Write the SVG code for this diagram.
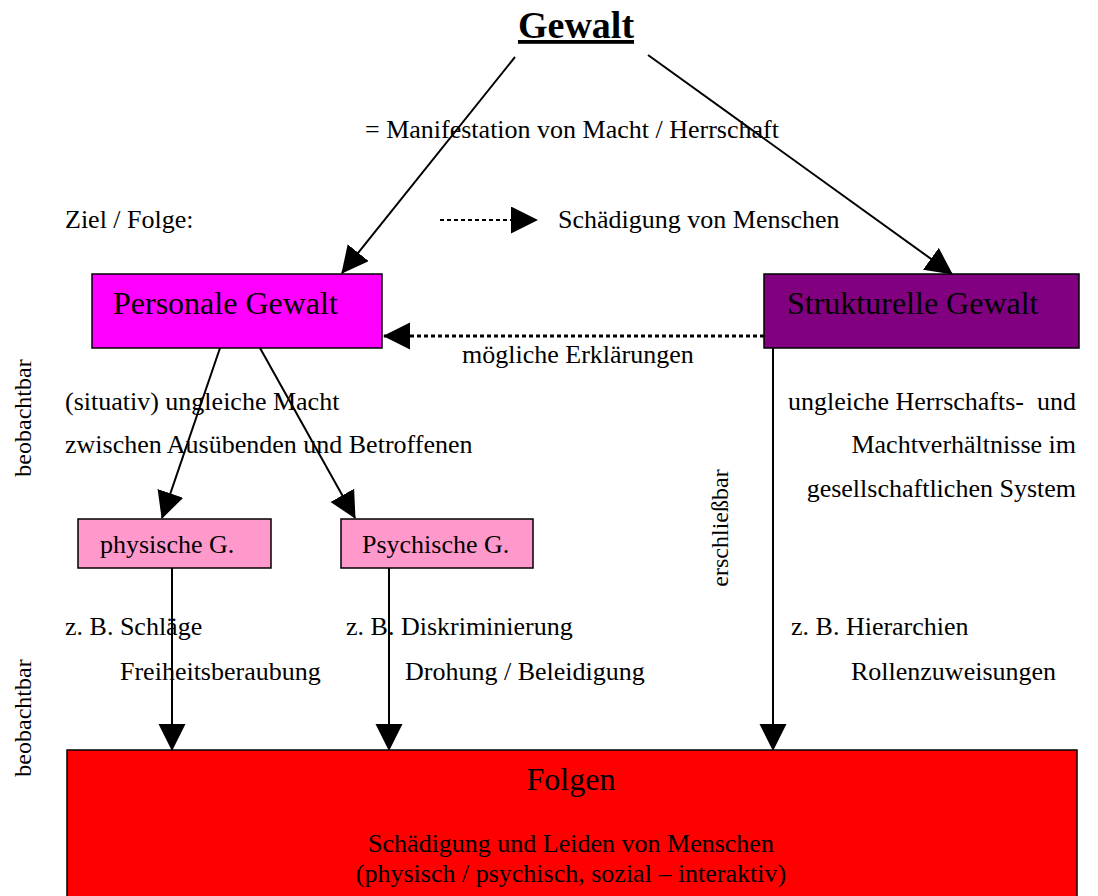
<svg xmlns="http://www.w3.org/2000/svg" width="1098" height="896" viewBox="0 0 1098 896">
  <style>
    text { font-family: "Liberation Serif", "Times New Roman", serif; fill: #000; }
    .t26 { font-size: 26px; }
    .t32 { font-size: 32px; }
    .side { font-size: 24px; text-anchor: middle; }
    .box { stroke: #000; stroke-width: 1.5; }
    .solid { fill: none; stroke: #000; stroke-width: 2; }
    .dotted { fill: none; stroke: #000; stroke-dasharray: 4 3; }
  </style>
  <defs>
    <marker id="head" markerUnits="userSpaceOnUse" markerWidth="28" markerHeight="28" refX="26" refY="13.5" orient="auto">
      <path d="M0,0 L27,13.5 L0,27 Z" fill="#000"/>
    </marker>
  </defs>

  <rect width="1098" height="896" fill="#fff"/>

  <!-- Title -->
  <g id="title">
    <text x="576" y="38" font-size="38" font-weight="bold" text-anchor="middle" text-decoration="underline">Gewalt</text>
  </g>

  <!-- Free labels -->
  <g id="labels">
    <text class="t26" x="365" y="138">= Manifestation von Macht / Herrschaft</text>
    <text class="t26" x="65" y="228">Ziel / Folge:</text>
    <text class="t26" x="558" y="228">Schädigung von Menschen</text>
    <text class="t26" x="462" y="363">mögliche Erklärungen</text>
    <text class="t26" x="65" y="410">(situativ) ungleiche Macht</text>
    <text class="t26" x="65" y="453">zwischen Ausübenden und Betroffenen</text>
    <text class="t26" x="1076" y="410" text-anchor="end">ungleiche Herrschafts-&#160; und</text>
    <text class="t26" x="1076" y="453" text-anchor="end">Machtverhältnisse im</text>
    <text class="t26" x="1076" y="497" text-anchor="end">gesellschaftlichen System</text>
    <text class="t26" x="65" y="635">z. B. Schläge</text>
    <text class="t26" x="120" y="680">Freiheitsberaubung</text>
    <text class="t26" x="346" y="635">z. B. Diskriminierung</text>
    <text class="t26" x="405" y="680">Drohung / Beleidigung</text>
    <text class="t26" x="791" y="635">z. B. Hierarchien</text>
    <text class="t26" x="851" y="680">Rollenzuweisungen</text>
    <text class="side" transform="translate(31,418) rotate(-90)">beobachtbar</text>
    <text class="side" transform="translate(31,718) rotate(-90)">beobachtbar</text>
    <text class="side" transform="translate(728,528) rotate(-90)">erschließbar</text>
  </g>

  <!-- Nodes -->
  <g id="personale">
    <rect class="box" x="92" y="274" width="290" height="74" fill="#ff00ff"/>
    <text class="t32" x="113" y="314">Personale Gewalt</text>
  </g>
  <g id="strukturelle">
    <rect class="box" x="764" y="274" width="315" height="74" fill="#800080"/>
    <text class="t32" x="787" y="314">Strukturelle Gewalt</text>
  </g>
  <g id="physische">
    <rect class="box" x="78" y="519" width="193" height="49" fill="#ff99cc"/>
    <text class="t26" x="100" y="553">physische G.</text>
  </g>
  <g id="psychische">
    <rect class="box" x="341" y="519" width="192" height="49" fill="#ff99cc"/>
    <text class="t26" x="362" y="553">Psychische G.</text>
  </g>
  <g id="folgen">
    <rect class="box" x="67" y="750" width="1010" height="160" fill="#ff0000"/>
    <text class="t32" x="571" y="790" text-anchor="middle">Folgen</text>
    <text class="t26" x="571" y="852" text-anchor="middle">Schädigung und Leiden von Menschen</text>
    <text class="t26" x="571" y="882" text-anchor="middle">(physisch / psychisch, sozial – interaktiv)</text>
  </g>

  <!-- Connectors -->
  <g id="connectors">
    <line class="solid" x1="515" y1="57" x2="342" y2="273" marker-end="url(#head)"/>
    <line class="solid" x1="648" y1="55" x2="952" y2="274" marker-end="url(#head)"/>
    <line class="dotted" stroke-width="2" x1="440" y1="220" x2="537" y2="220" marker-end="url(#head)"/>
    <line class="dotted" stroke-width="3" x1="764" y1="336" x2="384" y2="336" marker-end="url(#head)"/>
    <line class="solid" x1="220" y1="348" x2="162" y2="518" marker-end="url(#head)"/>
    <line class="solid" x1="260" y1="348" x2="355" y2="518" marker-end="url(#head)"/>
    <line class="solid" x1="172" y1="568" x2="172" y2="750" marker-end="url(#head)"/>
    <line class="solid" stroke-width="3" x1="389" y1="568" x2="389" y2="750" marker-end="url(#head)"/>
    <line class="solid" x1="773" y1="348" x2="773" y2="750" marker-end="url(#head)"/>
  </g>
</svg>
